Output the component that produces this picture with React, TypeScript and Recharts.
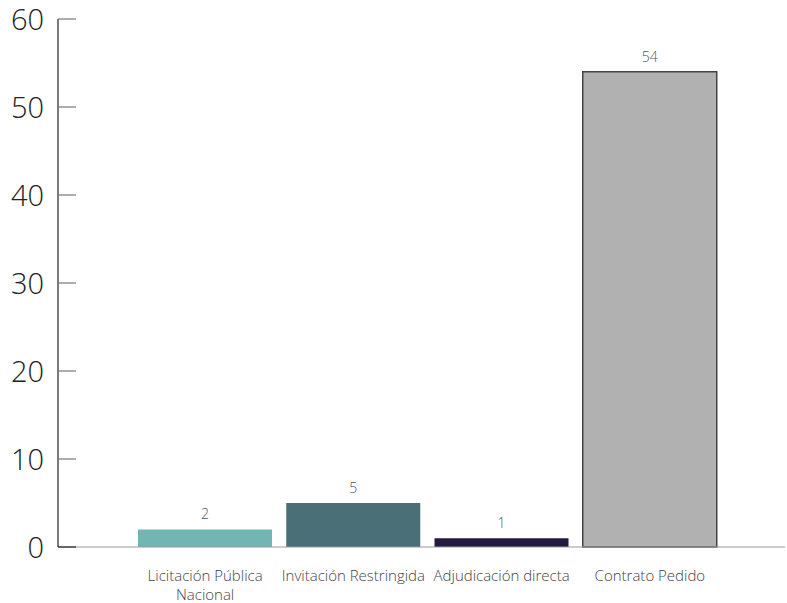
import React from "react";
import { BarChart, Bar, XAxis, YAxis, Cell, LabelList } from "recharts";

const CATEGORIES = [
  "Licitación Pública Nacional",
  "Invitación Restringida",
  "Adjudicación directa",
  "Contrato Pedido",
];
const VALUES = [2, 5, 1, 54];
const COLORS = ["#72b5b3", "#4a6f77", "#241a40", "#b1b1b1"];
const Y_TICKS = [0, 10, 20, 30, 40, 50, 60];

const data = CATEGORIES.map((name, i) => ({ name, value: VALUES[i] }));

const FONT = "'Open Sans', 'Noto Sans', sans-serif";

function wrap(text: string, max = 24): string[] {
  const words = text.split(" ");
  const lines: string[] = [];
  let cur = "";
  for (const w of words) {
    const next = cur ? cur + " " + w : w;
    if (next.length > max && cur) {
      lines.push(cur);
      cur = w;
    } else {
      cur = next;
    }
  }
  if (cur) lines.push(cur);
  return lines;
}

// eslint-disable-next-line @typescript-eslint/no-explicit-any
function XTick({ x, y, payload }: any) {
  const lines = wrap(payload.value);
  return (
    <text
      x={x}
      y={y}
      textAnchor="middle"
      fill="#444"
      fontSize={15}
      fontFamily={FONT}
      fontWeight={300}
    >
      {lines.map((l, i) => (
        <tspan key={i} x={x} dy={i === 0 ? 34 : 19}>
          {l}
        </tspan>
      ))}
    </text>
  );
}

// eslint-disable-next-line @typescript-eslint/no-explicit-any
function YTick({ x, y, payload }: any) {
  return (
    <g>
      <line x1={x} x2={x + 18} y1={y} y2={y} stroke={payload.value === 0 ? "#222" : "#777"} strokeWidth={1.2} />
      <text
        x={x - 14}
        y={y}
        dy={11}
        textAnchor="end"
        fill="#222"
        fontSize={29}
        fontFamily={FONT}
        fontWeight={300}
      >
        {payload.value}
      </text>
    </g>
  );
}

// eslint-disable-next-line @typescript-eslint/no-explicit-any
function ValueLabel({ x, y, width, value }: any) {
  return (
    <text
      x={x + width / 2}
      y={y - 10}
      textAnchor="middle"
      fill="#555"
      fontSize={14}
      fontFamily={FONT}
      fontWeight={300}
    >
      {value}
    </text>
  );
}

export default function App() {
  return (
    <div style={{ position: "absolute", left: 0, top: 0, background: "#fff" }}>
      <BarChart
        width={787}
        height={603}
        data={data}
        margin={{ top: 19, right: 2, left: 0, bottom: 0 }}
      >
        <XAxis
          dataKey="name"
          interval={0}
          height={56}
          padding={{ left: 73, right: 61 }}
          axisLine={{ stroke: "#999", strokeWidth: 1.2 }}
          tickLine={false}
          tickSize={0}
          tickMargin={0}
          tick={<XTick />}
        />
        <YAxis
          width={58}
          domain={[0, 60]}
          ticks={Y_TICKS}
          interval={0}
          tickSize={0}
          tickMargin={0}
          axisLine={{ stroke: "#222", strokeWidth: 1.2 }}
          tickLine={false}
          tick={<YTick />}
        />
        <Bar dataKey="value" barSize={134} isAnimationActive={false}>
          {data.map((d, i) => (
            <Cell
              key={d.name}
              fill={COLORS[i]}
              stroke={i === 3 ? "#444" : "none"}
              strokeWidth={i === 3 ? 1.5 : 0}
            />
          ))}
          <LabelList dataKey="value" content={<ValueLabel />} />
        </Bar>
      </BarChart>
    </div>
  );
}
